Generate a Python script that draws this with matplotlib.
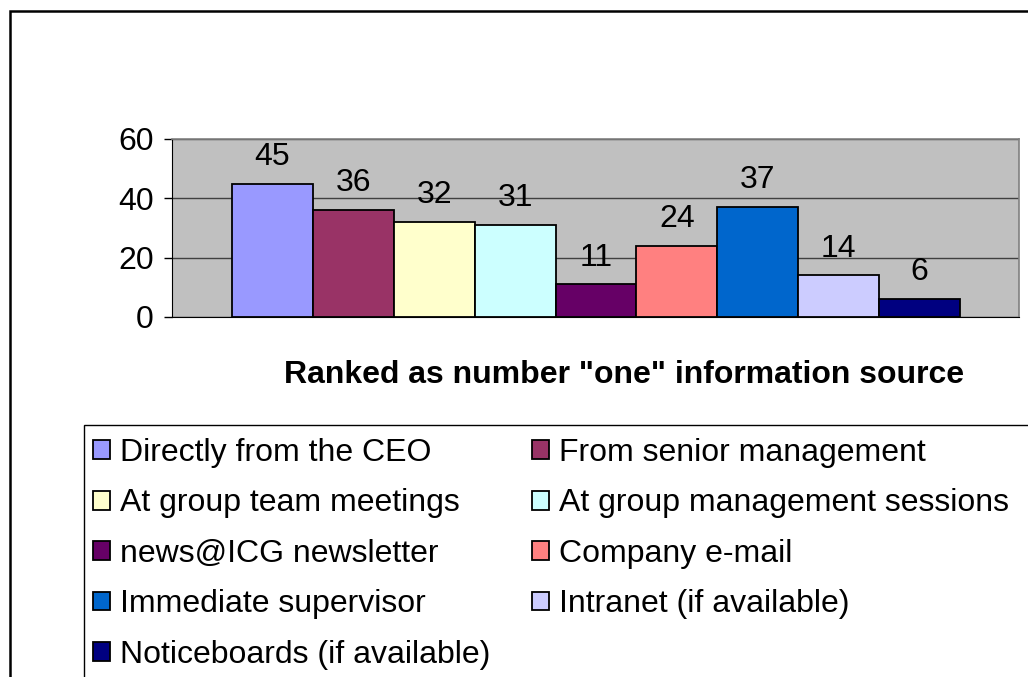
import matplotlib
matplotlib.use("Agg")
import matplotlib.pyplot as plt
from matplotlib.patches import Rectangle, Patch

categories = ["Directly from the CEO", "From senior management", "At group team meetings",
              "At group management sessions", "news@ICG newsletter", "Company e-mail",
              "Immediate supervisor", "Intranet (if available)", "Noticeboards (if available)"]
values = [45, 36, 32, 31, 11, 24, 37, 14, 6]
colors = ["#9999FF", "#993366", "#FFFFCC", "#CCFFFF", "#660066", "#FF8080",
          "#0066CC", "#CCCCFF", "#000080"]
yticks = [0, 20, 40, 60]
xlabel = 'Ranked as number "one" information source'

plt.rcParams['font.family'] = ['Liberation Sans', 'DejaVu Sans']

W, H = 1028, 677
fig = plt.figure(figsize=(W / 100, H / 100), dpi=100)
fig.patch.set_facecolor("white")

# outer chart frame (cut off at right/bottom)
fig.add_artist(Rectangle((9.5 / W, -0.1), 1.2, 1 - 11 / H + 0.1, transform=fig.transFigure,
                         fill=False, edgecolor="black", linewidth=1.8))

ax = fig.add_axes([172 / W, 1 - 317 / H, (1019 - 172) / W, (317 - 139) / H])
ax.set_facecolor("#C0C0C0")
ax.set_axisbelow(True)
ax.yaxis.grid(True, color="#404040", linewidth=1.0)

xs = list(range(len(values)))
bars = ax.bar(xs, values, width=1.0, color=colors, edgecolor="black", linewidth=1.3, zorder=3)
for x, v in zip(xs, values):
    ax.annotate(str(v), (x, v), xytext=(0, 13.5), textcoords="offset points",
                ha="center", va="baseline", fontsize=23, color="black")

ax.set_xlim(-0.5 - 60 / 81, len(values) - 0.5 + 59 / 81)
ax.set_ylim(0, 60)
ax.set_yticks(yticks)
ax.set_yticklabels([str(t) for t in yticks], fontsize=23)
ax.set_xticks([])
ax.tick_params(axis="y", direction="out", length=6, width=1, color="black", pad=7)
for s in ["top", "right"]:
    ax.spines[s].set_color("#808080")
    ax.spines[s].set_linewidth(1.2)
ax.spines["left"].set_color("black")
ax.spines["bottom"].set_color("black")

fig.text(624 / W, 1 - 375 / H, xlabel, ha="center", va="center", fontsize=23, fontweight="bold")

# legend frame (cut off at right/bottom)
fig.add_artist(Rectangle((83.5 / W, -0.1), 1.2, 1 - 425 / H + 0.1, transform=fig.transFigure,
                         fill=False, edgecolor="black", linewidth=1.0))

handles = [Patch(facecolor=c, edgecolor="black", linewidth=1.3) for c in colors]
order = [0, 2, 4, 6, 8, 1, 3, 5, 7]
leg = fig.legend([handles[i] for i in order], [categories[i] for i in order],
                 loc="upper left", bbox_to_anchor=(93 / W, 1 - 438 / H), ncol=2,
                 frameon=False, fontsize=23, handlelength=0.53, handleheight=0.53,
                 handletextpad=0.31, columnspacing=1.3, labelspacing=0.64,
                 borderpad=0, borderaxespad=0)

fig.savefig("out.png", dpi=100)
